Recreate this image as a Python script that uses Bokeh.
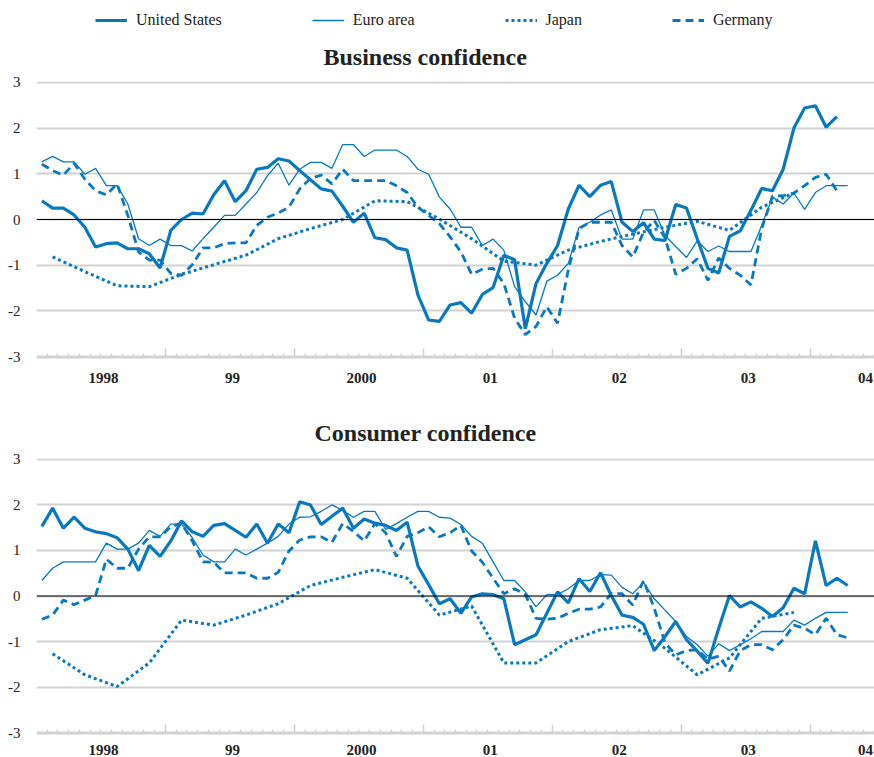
from bokeh.plotting import figure
from bokeh.models import Range1d, FixedTicker, LinearAxis, Span, Title, Legend, LegendItem
from bokeh.layouts import column
from bokeh.embed import file_html
from bokeh.resources import INLINE

# ---------------- data (monthly from Jan 1998, Japan quarterly from Q1 1998) ----------------
START_YEAR = 1998

us_business = [0.41, 0.25, 0.25, 0.10, -0.17, -0.60, -0.53, -0.51, -0.64, -0.64, -0.75, -1.06,
               -0.24, 0.0, 0.14, 0.12, 0.54, 0.85, 0.39, 0.63, 1.10, 1.14, 1.33, 1.28,
               1.07, 0.87, 0.67, 0.62, 0.29, -0.06, 0.14, -0.40, -0.44, -0.62, -0.67, -1.65,
               -2.20, -2.23, -1.87, -1.82, -2.05, -1.64, -1.49, -0.78, -0.88, -2.39, -1.40, -0.96,
               -0.57, 0.23, 0.75, 0.50, 0.75, 0.83, -0.06, -0.26, -0.07, -0.43, -0.46, 0.33,
               0.25, -0.42, -1.07, -1.17, -0.37, -0.25, 0.20, 0.68, 0.63, 1.10, 2.00, 2.44,
               2.49, 2.02, 2.25]
euro_business = [1.26, 1.38, 1.26, 1.26, 0.99, 1.12, 0.74, 0.74, 0.34, -0.42, -0.57, -0.43,
                 -0.57, -0.57, -0.69, -0.42, -0.17, 0.09, 0.09, 0.34, 0.59, 0.96, 1.23, 0.75,
                 1.10, 1.25, 1.25, 1.12, 1.64, 1.64, 1.38, 1.52, 1.52, 1.52, 1.38, 1.10,
                 0.99, 0.49, 0.23, -0.17, -0.17, -0.57, -0.43, -0.67, -1.47, -1.80, -2.09, -1.35,
                 -1.22, -0.96, -0.17, -0.06, 0.10, 0.21, -0.43, -0.43, 0.21, 0.21, -0.35, -0.59,
                 -0.83, -0.47, -0.70, -0.58, -0.70, -0.70, -0.70, -0.13, 0.49, 0.34, 0.58, 0.22,
                 0.59, 0.74, 0.74, 0.74]
japan_business = [-0.82, -1.14, -1.45, -1.47, -1.20, -0.99, -0.78, -0.42,
                  -0.20, 0.0, 0.41, 0.39, 0.01, -0.42, -0.91, -1.00,
                  -0.67, -0.48, -0.32, -0.17, -0.04, -0.24, 0.27, 0.58]
germany_business = [1.21, 1.07, 0.97, 1.23, 0.88, 0.63, 0.54, 0.78, 0.09, -0.71, -0.89, -0.89,
                    -1.18, -1.22, -0.99, -0.62, -0.62, -0.53, -0.51, -0.51, -0.13, 0.05, 0.14, 0.27,
                    0.67, 0.90, 0.97, 0.78, 1.10, 0.85, 0.85, 0.85, 0.85, 0.74, 0.59, 0.27,
                    0.09, -0.09, -0.38, -0.71, -1.20, -1.09, -1.07, -1.40, -2.16, -2.52, -2.34, -1.91,
                    -2.27, -1.10, -0.20, -0.06, -0.06, -0.06, -0.57, -0.82, -0.28, -0.02, -0.40, -1.20,
                    -1.07, -0.86, -1.33, -0.84, -1.07, -1.22, -1.43, -0.20, 0.51, 0.52, 0.58, 0.74,
                    0.92, 0.99, 0.63]

us_consumer = [1.53, 1.93, 1.49, 1.73, 1.49, 1.41, 1.37, 1.28, 1.03, 0.56, 1.11, 0.87,
               1.21, 1.65, 1.41, 1.31, 1.55, 1.59, 1.44, 1.29, 1.58, 1.16, 1.58, 1.39,
               2.07, 2.00, 1.57, 1.75, 1.93, 1.49, 1.69, 1.60, 1.55, 1.44, 1.62, 0.66,
               0.25, -0.17, -0.06, -0.38, -0.02, 0.05, 0.03, -0.06, -1.07, -0.96, -0.85, -0.38,
               0.09, -0.15, 0.38, 0.10, 0.51, 0.01, -0.42, -0.47, -0.62, -1.20, -0.89, -0.56,
               -0.96, -1.21, -1.48, -0.71, 0.01, -0.24, -0.13, -0.27, -0.45, -0.26, 0.17, 0.05,
               1.21, 0.23, 0.39, 0.23]
euro_consumer = [0.34, 0.61, 0.75, 0.75, 0.75, 0.75, 1.16, 1.03, 1.03, 1.16, 1.44, 1.31,
                 1.58, 1.58, 1.28, 0.90, 0.75, 0.75, 1.03, 0.90, 1.03, 1.16, 1.31, 1.58,
                 1.73, 1.74, 1.86, 2.00, 1.88, 1.73, 1.86, 1.86, 1.46, 1.59, 1.73, 1.86,
                 1.86, 1.73, 1.71, 1.57, 1.31, 1.16, 0.75, 0.34, 0.34, 0.09, -0.24, 0.03,
                 0.03, 0.16, 0.34, 0.34, 0.47, 0.46, 0.19, 0.05, 0.30, -0.06, -0.31, -0.56,
                 -0.89, -1.07, -1.32, -1.05, -1.20, -1.07, -0.94, -0.78, -0.78, -0.78, -0.53, -0.64,
                 -0.49, -0.36, -0.36, -0.36]
japan_consumer = [-1.27, -1.73, -1.99, -1.47, -0.53, -0.64, -0.42, -0.17,
                  0.23, 0.41, 0.58, 0.39, -0.42, -0.22, -1.47, -1.47,
                  -1.00, -0.74, -0.65, -1.15, -1.73, -1.36, -0.49, -0.36]
germany_consumer = [-0.51, -0.42, -0.09, -0.19, -0.09, 0.01, 0.81, 0.61, 0.61, 1.03, 1.30, 1.30,
                    1.52, 1.60, 1.21, 0.75, 0.74, 0.51, 0.51, 0.51, 0.39, 0.39, 0.52, 0.99,
                    1.23, 1.30, 1.30, 1.18, 1.59, 1.42, 1.21, 1.59, 1.39, 0.87, 1.31, 1.39,
                    1.52, 1.30, 1.39, 1.55, 0.99, 0.74, 0.39, 0.05, 0.16, 0.03, -0.49, -0.51,
                    -0.49, -0.38, -0.29, -0.29, -0.24, 0.05, 0.05, -0.20, 0.34, -0.27, -1.03, -1.29,
                    -1.20, -1.18, -1.39, -1.32, -1.65, -1.20, -1.07, -1.07, -1.18, -0.96, -0.64, -0.71,
                    -0.85, -0.49, -0.85, -0.92]

series_names = ["United States", "Euro area", "Japan", "Germany"]
y_ticks = [-3, -2, -1, 0, 1, 2, 3]
y_labels = ["-3", "-2", "-1", "0", "1", "2", "3"]
year_labels = ["1998", "99", "2000", "01", "02", "03", "04"]
panel_titles = ["Business confidence", "Consumer confidence"]

BLUE = "#0a78bf"
GRID = "#d2d2d2"
SERIF = "Liberation Serif"
STYLES = [dict(line_width=3.2), dict(line_width=1.3),
          dict(line_width=3, line_dash="3 3"), dict(line_width=2.8, line_dash="8 5")]
FIG_W = 874


def monthly_x(n):
    return [START_YEAR + (i + 0.5) / 12.0 for i in range(n)]


def quarterly_x(n):
    return [START_YEAR + (3 * i + 1.5) / 12.0 for i in range(n)]


def make_legend_strip():
    p = figure(width=FIG_W, height=29, x_range=Range1d(0, 1), y_range=Range1d(0, 1),
               x_axis_type=None, y_axis_type=None, output_backend="svg",
               toolbar_location=None, min_border=0, outline_line_color=None)
    nan = float("nan")
    rs = [p.line([nan], [nan], line_color=BLUE, **st) for st in STYLES]
    items = [LegendItem(label=n, renderers=[r]) for n, r in zip(series_names, rs)]
    leg = Legend(items=items, orientation="horizontal", location=(59, 0),
                 border_line_color=None, background_fill_alpha=0,
                 label_text_font=SERIF, label_text_font_size="16px",
                 label_text_color="#222222",
                 glyph_width=32, glyph_height=16, label_standoff=9,
                 spacing=90, padding=0, margin=0)
    p.add_layout(leg)
    return p


def make_panel(title, title_offset, title_standoff, data, height, top_border,
               bottom_border, label_standoff):
    p = figure(width=FIG_W, height=height,
               x_range=Range1d(START_YEAR, START_YEAR + 6.5),
               y_range=Range1d(-3.02, 3.02),
               x_axis_type=None, output_backend="svg", toolbar_location=None,
               min_border_left=36, min_border_right=0,
               min_border_top=top_border, min_border_bottom=bottom_border,
               outline_line_color=None)

    yt = FixedTicker(ticks=y_ticks)
    p.yaxis.ticker = yt
    p.yaxis.major_label_overrides = {t: s for t, s in zip(y_ticks, y_labels)}
    p.yaxis.axis_line_color = None
    p.yaxis.major_tick_line_color = None
    p.yaxis.minor_tick_line_color = None
    p.yaxis.major_tick_out = 0
    p.yaxis.minor_tick_out = 0
    p.yaxis.major_label_text_font = SERIF
    p.yaxis.major_label_text_font_size = "15px"
    p.yaxis.major_label_text_color = "#222222"
    p.yaxis.major_label_standoff = 16
    p.ygrid.ticker = yt
    p.ygrid.grid_line_color = GRID
    p.ygrid.grid_line_width = 2

    p.add_layout(Span(location=0, dimension="width", line_color="black", line_width=1.2))

    us, euro, japan, germany = data
    p.line(monthly_x(len(us)), us, line_color=BLUE, **STYLES[0])
    p.line(monthly_x(len(euro)), euro, line_color=BLUE, **STYLES[1])
    p.line(quarterly_x(len(japan)), japan, line_color=BLUE, **STYLES[2])
    p.line(monthly_x(len(germany)), germany, line_color=BLUE, **STYLES[3])

    years = list(range(START_YEAR + 1, START_YEAR + 7))
    months = [START_YEAR + k / 12.0 for k in range(1, 79) if k % 12 != 0]
    tick_axis = LinearAxis(ticker=FixedTicker(ticks=years, minor_ticks=months),
                           axis_line_color=GRID, axis_line_width=2,
                           major_tick_in=9, major_tick_out=0,
                           minor_tick_in=4, minor_tick_out=0,
                           major_tick_line_color=GRID, minor_tick_line_color=GRID,
                           major_tick_line_width=1.5, minor_tick_line_width=1.5,
                           major_label_text_font_size="0px", major_label_standoff=0)
    p.add_layout(tick_axis, "below")

    label_pos = [START_YEAR + i + 0.52 for i in range(6)] + [START_YEAR + 6.43]
    overrides = {pos: lab for pos, lab in zip(label_pos, year_labels)}
    label_axis = LinearAxis(ticker=FixedTicker(ticks=label_pos),
                            major_label_overrides=overrides,
                            axis_line_color=None, major_tick_line_color=None,
                            minor_tick_line_color=None,
                            major_tick_in=0, major_tick_out=0,
                            minor_tick_in=0, minor_tick_out=0,
                            major_label_text_font=SERIF,
                            major_label_text_font_style="bold",
                            major_label_text_font_size="15px",
                            major_label_text_color="#222222",
                            major_label_standoff=label_standoff)
    p.add_layout(label_axis, "below")

    p.add_layout(Title(text=title, align="left", offset=title_offset, standoff=title_standoff,
                       text_font=SERIF, text_font_style="bold", text_font_size="24px",
                       text_color="#222222"), "above")
    return p


legend_strip = make_legend_strip()
p1 = make_panel(panel_titles[0], 287, 24,
                (us_business, euro_business, japan_business, germany_business),
                375, 52, 47, 15)
p2 = make_panel(panel_titles[1], 278, 26,
                (us_consumer, euro_consumer, japan_consumer, germany_consumer),
                353, 54, 24, 11)

layout = column(legend_strip, p1, p2, spacing=0)
open("out.html", "w").write(file_html(layout, INLINE))
